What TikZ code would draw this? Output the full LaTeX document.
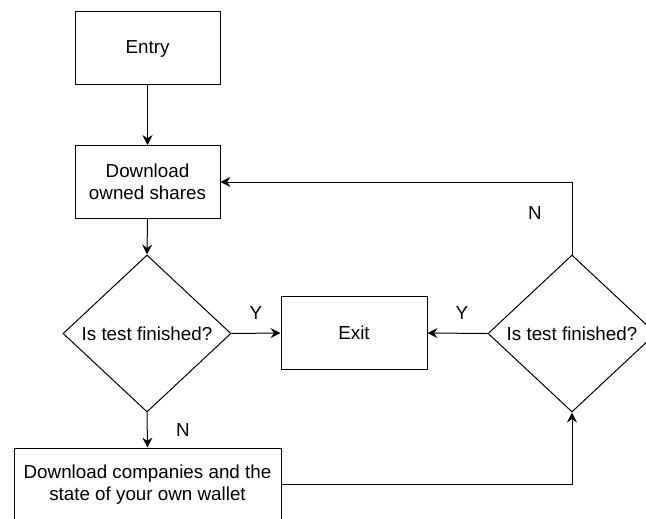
\documentclass[tikz,border=0pt]{standalone}
\usepackage{fontspec}
\setmainfont{Liberation Sans}
\usetikzlibrary{shapes.geometric,arrows.meta}

\tikzset{
  every node/.style={font=\fontsize{18.8}{22}\selectfont, text=black},
  stepbox/.style={draw, line width=1pt, align=center, inner sep=0pt},
  decision/.style={draw, diamond, line width=1pt, aspect=1.07, inner sep=0pt,
    minimum width=168pt, minimum height=157pt},
  flow/.style={line width=1pt, -{Stealth[length=10pt,width=10pt,inset=3.5pt]}},
  answer/.style={inner sep=0pt}
}

\begin{document}
\begin{tikzpicture}[x=1pt,y=-1pt]
  \useasboundingbox (0,0) rectangle (646,519);
  \clip (0,0) rectangle (646,519);

  % process steps
  \node[stepbox, minimum width=145pt, minimum height=73pt] (entry) at (147.5,48.5) {Entry};
  \node[stepbox, minimum width=145pt, minimum height=73pt] (owned) at (147.5,182) {Download\\owned shares};
  \node[stepbox, minimum width=146pt, minimum height=73pt] (exit) at (354,333) {Exit};
  \node[stepbox, minimum width=267pt, minimum height=74pt] (wallet) at (147.5,485) {Download companies and the\\state of your own wallet};

  % decisions
  \node[decision] (check1) at (147,333.5) {Is test finished?};
  \node[decision] (check2) at (572,333.5) {Is test finished?};

  % bend points
  \coordinate (loopTop) at (572,182);
  \coordinate (loopBottom) at (572,484.5);

  % connectors
  \draw[flow] (entry.south) -- (owned.north);
  \draw[flow] (owned.south) -- (check1.north);
  \draw[flow] (check1.east) -- (exit.west);
  \draw[flow] (check1.south) -- (wallet.north);
  \draw[flow] (wallet.east |- loopBottom) -- (loopBottom) -- (check2.south);
  \draw[flow] (check2.west) -- (exit.east);
  \draw[flow] (check2.north) -- (loopTop) -- (owned.east |- loopTop);

  % branch labels
  \node[answer] (y1) at (256,313) {Y};
  \node[answer] (n1) at (183,430) {N};
  \node[answer] (y2) at (462,313) {Y};
  \node[answer] (n2) at (535,213) {N};
\end{tikzpicture}
\end{document}
